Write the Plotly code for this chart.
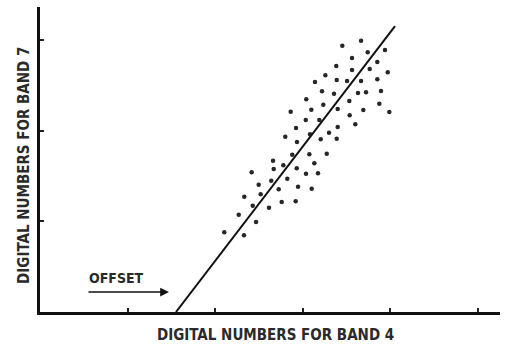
import plotly.graph_objects as go

# Scatter of band 4 vs band 7 digital numbers (units = tick spacing)
band4 = [3.455, 3.669, 3.745, 3.943, 3.566, 3.855, 3.386, 3.566, 3.768, 3.974,
         3.261, 3.143, 3.391, 3.509, 3.669, 3.855, 3.223, 3.360, 3.634, 3.726,
         3.897, 3.043, 3.535, 3.238, 3.878, 2.865, 3.101, 3.402, 3.695, 3.992,
         3.539, 3.037, 3.192, 3.603, 2.926, 3.402, 3.086, 3.303, 2.803, 3.208,
         3.391, 2.937, 2.883, 3.078, 3.277, 2.663, 3.135, 2.781, 2.671, 2.934,
         2.419, 3.040, 3.177, 2.826, 2.643, 2.499, 2.949, 2.728, 3.105, 2.522,
         2.335, 2.762, 2.922, 2.431, 2.617, 2.271, 2.469, 2.106, 2.331]
band7 = [2.936, 2.991, 2.863, 2.889, 2.800, 2.756, 2.712, 2.668, 2.679, 2.643,
         2.610, 2.536, 2.558, 2.547, 2.547, 2.566, 2.433, 2.407, 2.415, 2.422,
         2.437, 2.345, 2.326, 2.286, 2.297, 2.208, 2.230, 2.238, 2.227, 2.205,
         2.169, 2.117, 2.117, 2.069, 2.029, 2.040, 1.959, 1.977, 1.933, 1.904,
         1.911, 1.874, 1.734, 1.739, 1.745, 1.668, 1.639, 1.617, 1.577, 1.584,
         1.540, 1.525, 1.529, 1.470, 1.448, 1.404, 1.381, 1.353, 1.359, 1.298,
         1.271, 1.213, 1.221, 1.172, 1.150, 1.073, 0.992, 0.879, 0.846]

line_x = [1.554, 4.057]
line_y = [0.0, 3.153]

x_ticks = [1, 2, 3, 4, 5]
y_ticks = [1, 2, 3]

x_title = "DIGITAL NUMBERS FOR BAND 4"
y_title = "DIGITAL NUMBERS FOR BAND 7"
offset_label = "OFFSET"
offset_arrow_x = [0.537, 1.474]
offset_arrow_y = 0.22
offset_text_pos = (0.874, 0.375)

FONT = "Liberation Sans Narrow, DejaVu Sans Condensed, Arial Narrow, sans-serif"
TEXT_COLOR = "#2a2a2a"

fig = go.Figure()
fig.add_trace(go.Scatter(x=band4, y=band7, mode="markers",
                         marker=dict(size=4.5, color="#262626"),
                         showlegend=False, hoverinfo="skip"))
fig.add_trace(go.Scatter(x=line_x, y=line_y, mode="lines",
                         line=dict(color="#111111", width=2),
                         showlegend=False, hoverinfo="skip"))

fig.add_annotation(x=offset_arrow_x[1], y=offset_arrow_y,
                   ax=offset_arrow_x[0], ay=offset_arrow_y,
                   xref="x", yref="y", axref="x", ayref="y",
                   showarrow=True, arrowhead=2, arrowsize=1.1, arrowwidth=1.6,
                   arrowcolor="#111111", text="")
fig.add_annotation(x=offset_text_pos[0], y=offset_text_pos[1], xref="x", yref="y",
                   text="<b>" + offset_label + "</b>", showarrow=False,
                   font=dict(family=FONT, size=14, color=TEXT_COLOR))

fig.add_annotation(x=0.513, y=-0.076, xref="paper", yref="paper",
                   text="<b>" + x_title + "</b>", showarrow=False,
                   yanchor="middle", xanchor="center",
                   font=dict(family=FONT, size=15, color=TEXT_COLOR))
fig.add_annotation(x=-0.035, y=0.482, xref="paper", yref="paper",
                   text="<b>" + y_title + "</b>", showarrow=False, textangle=-90,
                   yanchor="middle", xanchor="center",
                   font=dict(family=FONT, size=15, color=TEXT_COLOR))

fig.update_xaxes(range=[0, 5.257], tickvals=x_ticks, ticks="inside", ticklen=4,
                 tickwidth=1.5, tickcolor="#222222", showticklabels=False,
                 showline=True, linecolor="#111111", linewidth=2.5,
                 showgrid=False, zeroline=False)
fig.update_yaxes(range=[0, 3.363], tickvals=y_ticks, ticks="inside", ticklen=4,
                 tickwidth=1.5, tickcolor="#222222", showticklabels=False,
                 showline=True, linecolor="#111111", linewidth=3,
                 showgrid=False, zeroline=False)

fig.update_layout(width=506, height=344,
                  margin=dict(l=40, r=6, t=7, b=32),
                  plot_bgcolor="white", paper_bgcolor="white")

fig.write_html("out.html", config={"displayModeBar": False},
               post_script="document.body.style.margin='0';document.body.style.overflow='hidden';")
